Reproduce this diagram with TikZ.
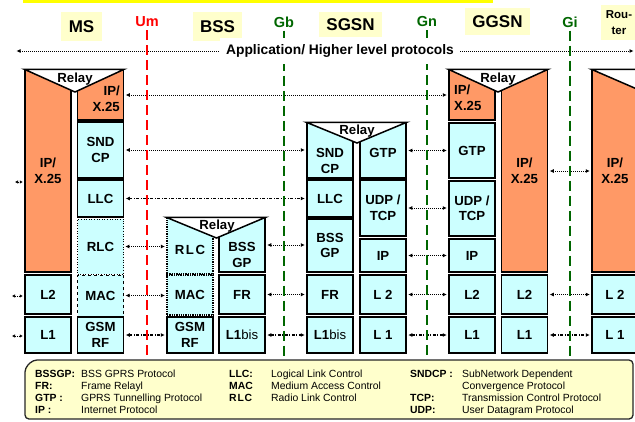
\documentclass[tikz,border=0pt]{standalone}
\usepackage{fontspec}
\setmainfont{Liberation Sans}
\usetikzlibrary{arrows.meta}
\definecolor{layerorange}{HTML}{FF9966}
\definecolor{layercyan}{HTML}{CCFFFF}
\definecolor{tagyellow}{HTML}{FFFFCC}
\definecolor{barYellow}{HTML}{FFFF00}
\definecolor{ifgreen}{HTML}{006600}
\tikzset{
    layer/.style={draw, line width=1.5pt, fill=layercyan, minimum width=46pt, inner sep=0pt, align=center, font=\bfseries\fontsize{13.2}{15.5}\selectfont},
    iplayer/.style={layer, fill=layerorange},
    relaytri/.style={draw, line width=1.5pt, fill=white, line join=miter},
    relaytxt/.style={font=\bfseries\fontsize{13.2}{15}\selectfont, inner sep=0pt},
    lbl/.style={font=\bfseries\fontsize{13.2}{15.5}\selectfont, inner sep=0pt},
    tag/.style={fill=tagyellow, inner sep=0pt, font=\bfseries\fontsize{17}{18}\selectfont},
    iface/.style={font=\bfseries\fontsize{14.5}{16}\selectfont, inner sep=0pt},
    ifline/.style={line width=2.7pt, dash pattern=on 10pt off 5pt},
    peer/.style={{Latex[length=4pt,width=4pt]}-{Latex[length=4pt,width=4pt]}, line width=0.7pt, dash pattern=on 1pt off 1pt, shorten <=1.5pt, shorten >=1.5pt},
    phys/.style={peer, line width=1.6pt, dash pattern=on 3pt off 1.5pt on 1pt off 1.5pt},
    side/.style={{Latex[length=3pt,width=3.5pt]}-{Latex[length=3pt,width=3.5pt]}, line width=0.7pt, dash pattern=on 1pt off 1pt, shorten >=1.5pt},
    legab/.style={anchor=base west, inner sep=0pt, font=\bfseries\fontsize{10.4}{12}\selectfont},
    legtx/.style={anchor=base west, inner sep=0pt, font=\fontsize{10.4}{12}\selectfont},
}

\begin{document}
\begin{tikzpicture}[x=1pt,y=-1pt]
    \useasboundingbox (0,0) rectangle (635,421);
    \fill[barYellow] (23,-3) rectangle (493,2.5);
    % Knoten-Beschriftungen
    \node[tag, minimum width=41pt, minimum height=29pt] (tms)   at (81.5,26.5)  {MS};
    \node[tag, minimum width=49pt, minimum height=29pt] (tbss)  at (217.5,26.5) {BSS};
    \node[tag, minimum width=63pt, minimum height=25pt] (tsgsn) at (350.5,24.5) {SGSN};
    \node[tag, minimum width=65pt, minimum height=27pt] (tggsn) at (497.5,21.5) {GGSN};
    \node[tag, minimum width=36pt, minimum height=35pt, font=\bfseries\fontsize{11.5}{16}\selectfont, align=center] (trt) at (619,22.5) {Rou-\\ter};
    % Schnittstellen
    \node[iface, text=red]     (um) at (147,22) {Um};
    \node[iface, text=ifgreen] (gb) at (284,22) {Gb};
    \node[iface, text=ifgreen] (gn) at (427,22) {Gn};
    \node[iface, text=ifgreen] (gi) at (570,22) {Gi};
    \coordinate (umend) at (147,362);
    \coordinate (gbend) at (284,362);
    \coordinate (gnend) at (427,362);
    \coordinate (giend) at (570,362);
    \coordinate (appl) at (15,51);
    \coordinate (appr) at (635,51);
    \draw[peer] (appl) -- (appr);

    % MS
    \node[iplayer, minimum height=202pt] (msipl) at (48,171) {IP/\\X.25};
    \node[iplayer, minimum height=50pt]  (msipr) at (100.5,95) {};
    \node[layer, minimum height=56pt] (msndcp) at (100.5,150) {SND\\CP};
    \node[layer, minimum height=37pt] (msllc)  at (100.5,198.5) {LLC};
    \node[layer, minimum height=55pt, line width=0.6pt, dotted] (msrlc) at (100.5,246.5) {RLC};
    \node[layer, minimum height=41pt, line width=1pt, dashed]   (msmac) at (100.5,295.5) {MAC};
    \node[layer, minimum height=36pt] (msrf)  at (100.5,335) {GSM\\RF};
    \node[layer, minimum height=39pt] (msl2)  at (48,294.5) {L2};
    \node[layer, minimum height=36pt] (msl1)  at (48,335) {L1};
    \draw[relaytri] (msipl.north west) -- (75,92) -- (msipr.north east) -- cycle;
    \node[relaytxt] (msrelay) at (75,79) {Relay};
    \node[lbl, align=right, anchor=east] (msiptxt) at (120,99) {IP/\\X.25};

    % BSS
    \node[layer, minimum height=56pt, line width=1.3pt, densely dotted] (bsrlc) at (190,246) {\\[2pt]R\kern1.5pt L\kern1.5pt C};
    \node[layer, minimum height=40pt, line width=1.3pt, densely dotted] (bsmac) at (190,295) {MAC};
    \node[layer, minimum height=36pt] (bsrf)    at (190,335) {GSM\\RF};
    \node[layer, minimum height=54pt] (bsbssgp) at (242,245) {};
    \node[layer, minimum height=39pt] (bsfr)    at (242,294.5) {FR};
    \node[layer, minimum height=36pt] (bsl1)    at (242,335) {L1\textmd{bis}};
    \draw[relaytri] (bsrlc.north west) -- (216.5,238) -- (bsbssgp.north east) -- cycle;
    \node[relaytxt] (bsrelay) at (217,226) {Relay};
    \node[lbl, align=center] (bsbssgptxt) at (242,255) {BSS\\GP};

    % SGSN
    \node[layer, minimum height=55pt] (sgsndcp) at (330,150.5) {};
    \node[layer, minimum height=37pt] (sgllc)   at (330,198.5) {LLC};
    \node[layer, minimum height=53pt] (sgbssgp) at (330,245.5) {BSS\\GP};
    \node[layer, minimum height=39pt] (sgfr)    at (330,294.5) {FR};
    \node[layer, minimum height=36pt] (sgl1)    at (330,335) {L1\textmd{bis}};
    \node[layer, minimum height=55pt] (sggtp)   at (383,150.5) {};
    \node[layer, minimum height=56pt] (sgudp)   at (383,208) {UDP /\\TCP};
    \node[layer, minimum height=33pt] (sgip)    at (383,255.5) {IP};
    \node[layer, minimum height=39pt] (sgl2)    at (383,294.5) {L 2};
    \node[layer, minimum height=36pt] (sgl1b)   at (383,335) {L 1};
    \draw[relaytri] (sgsndcp.north west) -- (357,143) -- (sggtp.north east) -- cycle;
    \node[relaytxt] (sgrelay) at (357,131) {Relay};
    \node[lbl, align=center] (sgsndcptxt) at (330,161) {SND\\CP};
    \node[lbl] (sggtptxt) at (383,153) {GTP};

    % GGSN
    \node[iplayer, minimum height=50pt] (ggipl) at (472,95) {};
    \node[layer, minimum height=55pt] (gggtp) at (472,150.5) {GTP};
    \node[layer, minimum height=55pt] (ggudp) at (472,208.5) {UDP /\\TCP};
    \node[layer, minimum height=33pt] (ggip)  at (472,255.5) {IP};
    \node[layer, minimum height=39pt] (ggl2)  at (472,294.5) {L2};
    \node[layer, minimum height=36pt] (ggl1)  at (472,335) {L1};
    \node[iplayer, minimum height=202pt] (ggipr) at (524.5,171) {IP/\\X.25};
    \node[layer, minimum height=39pt] (ggl2r) at (524.5,294.5) {L2};
    \node[layer, minimum height=36pt] (ggl1r) at (524.5,335) {L1};
    \draw[relaytri] (ggipl.north west) -- (498,92) -- (ggipr.north east) -- cycle;
    \node[relaytxt] (ggrelay) at (498,79) {Relay};
    \node[lbl, align=left, anchor=west] (ggiptxt) at (454,98) {IP/\\X.25};

    % Router
    \node[iplayer, minimum height=202pt] (rtip) at (615,171) {IP/\\X.25};
    \node[layer, minimum height=39pt] (rtl2) at (615,294.5) {L 2};
    \node[layer, minimum height=36pt] (rtl1) at (615,335) {L 1};
    \draw[relaytri] (rtip.north west) -- (rtip.north east) -- (638,89.5) -- cycle;

    % Peer-Verbindungen
    \draw[peer] (msipr.east)   -- (msipr.east -| ggipl.west);
    \draw[peer] (msndcp.east)  -- (msndcp.east -| sgsndcp.west);
    \draw[phys] (msllc.east)   -- (msllc.east -| sgllc.west);
    \draw[peer] (msrlc.east)   -- (msrlc.east -| bsrlc.west);
    \draw[peer] (msmac.east)   -- (msmac.east -| bsmac.west);
    \draw[phys] (msrf.east)    -- (msrf.east -| bsrf.west);
    \draw[peer] (bsbssgp.east) -- (bsbssgp.east -| sgbssgp.west);
    \draw[peer] (bsfr.east)    -- (bsfr.east -| sgfr.west);
    \draw[phys] (bsl1.east)    -- (bsl1.east -| sgl1.west);
    \draw[peer] (sggtp.east)   -- (sggtp.east -| gggtp.west);
    \draw[peer] (sgudp.east)   -- (sgudp.east -| ggudp.west);
    \draw[peer] (sgip.east)    -- (sgip.east -| ggip.west);
    \draw[peer] (sgl2.east)    -- (sgl2.east -| ggl2.west);
    \draw[phys] (sgl1b.east)   -- (sgl1b.east -| ggl1.west);
    \draw[peer] (ggipr.east)   -- (ggipr.east -| rtip.west);
    \draw[peer] (ggl2r.east)   -- (ggl2r.east -| rtl2.west);
    \draw[phys] (ggl1r.east)   -- (ggl1r.east -| rtl1.west);
    % nach links
    \coordinate (sideip) at (15,182);
    \coordinate (sidel2) at (12,296);
    \coordinate (sidel1) at (12,336);
    \draw[side] (sideip) -- (sideip -| msipl.west);
    \draw[side] (sidel2) -- (sidel2 -| msl2.west);
    \draw[side] (sidel1) -- (sidel1 -| msl1.west);

    % Schnittstellenlinien
    \draw[ifline, red]     ([yshift=-3pt]um.south) -- (umend);
    \draw[ifline, ifgreen] ([yshift=-3pt]gb.south) -- (gbend);
    \draw[ifline, ifgreen] ([yshift=-3pt]gn.south) -- (gnend);
    \draw[ifline, ifgreen] ([yshift=-3pt]gi.south) -- (giend);
    \node[fill=white, inner xsep=6pt, inner ysep=7pt, font=\bfseries\fontsize{13.8}{15}\selectfont] (app) at (340,51) {Application/ Higher level protocols};

    % Legende
    \draw[draw=black!85, line width=1.3pt, fill=tagyellow, rounded corners=4pt]
        (25,368) -- (33,360) -- (633,360) -- (633,419) -- (25,419) -- cycle;
    \node[legab] (kbssgp) at (35,377)   {BSSGP:};
    \node[legab] (kfr)    at (35,389.5) {FR:};
    \node[legab] (kgtp)   at (35,401.5) {GTP :};
    \node[legab] (kip)    at (35,413)   {IP :};
    \node[legtx] (dbssgp) at (81,377)   {BSS GPRS Protocol};
    \node[legtx] (dfr)    at (81,389.5) {Frame Relayl};
    \node[legtx] (dgtp)   at (81,401.5) {GPRS Tunnelling Protocol};
    \node[legtx] (dip)    at (81,413)   {Internet Protocol};
    \node[legab] (kllc)   at (229,377)   {LLC:};
    \node[legab] (kmac)   at (229,389.5) {MAC};
    \node[legab] (krlc)   at (229,401.5) {R\kern0.8pt L\kern0.8pt C};
    \node[legtx] (dllc)   at (271,377)   {Logical Link Control};
    \node[legtx] (dmac)   at (271,389.5) {Medium Access Control};
    \node[legtx] (drlc)   at (271,401.5) {Radio Link Control};
    \node[legab] (ksndcp) at (410,377)   {SNDCP :};
    \node[legab] (ktcp)   at (410,401.5) {TCP:};
    \node[legab] (kudp)   at (410,413)   {UDP:};
    \node[legtx] (dsndcp) at (462,377)   {SubNetwork Dependent};
    \node[legtx] (dconv)  at (462,389.5) {Convergence Protocol};
    \node[legtx] (dtcp)   at (462,401.5) {Transmission Control Protocol};
    \node[legtx] (dudp)   at (462,413)   {User Datagram Protocol};
\end{tikzpicture}
\end{document}
